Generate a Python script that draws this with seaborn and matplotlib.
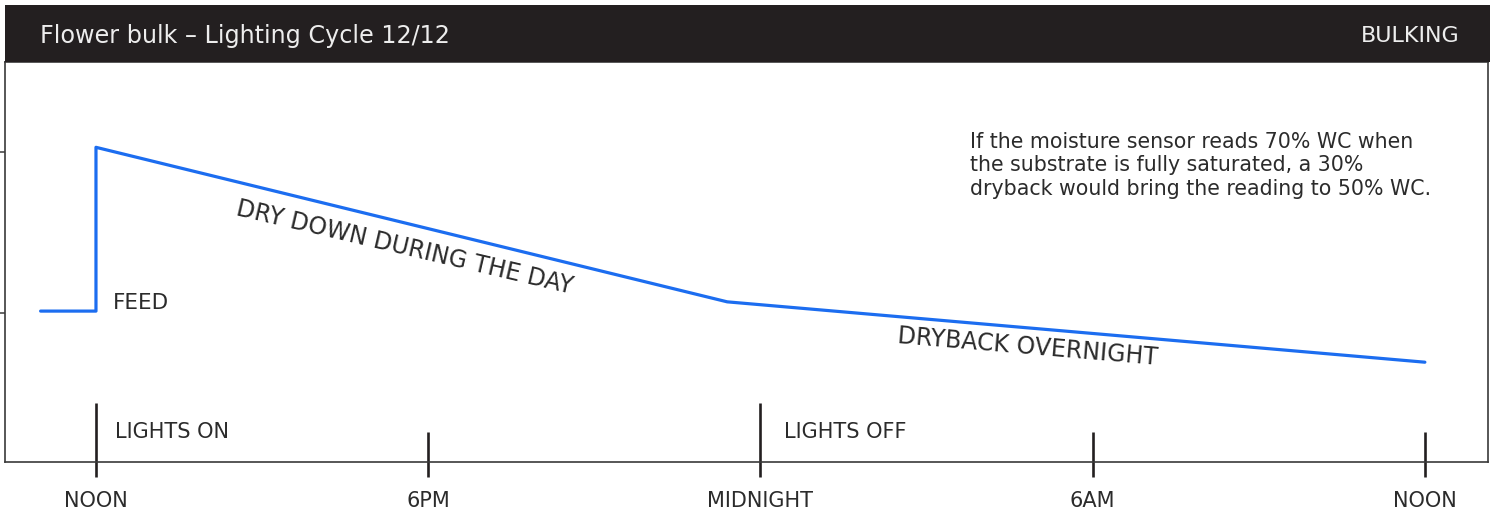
import pandas as pd
import seaborn as sns
import matplotlib.pyplot as plt
from matplotlib.patches import Rectangle

# colours
dark = '#231F20'
blue = '#1C6DF0'
ink = '#2B2B2B'

# hours after noon, water content (%)
hours = [-1, 0, 0, 11.4, 24]
wc = [50.25, 50.25, 70.6, 51.4, 43.9]

tick_hours = [0, 6, 12, 18, 24]
tick_labels = ['NOON', '6PM', 'MIDNIGHT', '6AM', 'NOON']
lights_hours = [0, 12]
y_ticks = [50, 70]

title = 'Flower bulk – Lighting Cycle 12/12'
badge = 'BULKING'
note = ('If the moisture sensor reads 70% WC when\n'
        'the substrate is fully saturated, a 30%\n'
        'dryback would bring the reading to 50% WC.')

sns.set_theme(style='white', rc={
    'axes.edgecolor': '#3A3A3A', 'axes.linewidth': 1.2,
    'text.color': ink, 'xtick.color': ink, 'ytick.color': '#3A3A3A',
})
plt.rcParams['font.family'] = ['DejaVu Sans']

df = pd.DataFrame({'hour': hours, 'wc': wc})

fig = plt.figure(figsize=(14.97, 5.12), dpi=100)
ax = fig.add_axes([5 / 1497, 50 / 512, 1483 / 1497, 400 / 512])

sns.lineplot(data=df, x='hour', y='wc', sort=False, estimator=None,
             color=blue, linewidth=2.3, ax=ax)

ax.set_xlim(-1.643, 25.14)
ax.set_ylim(31.5, 81.2)
ax.set_xlabel('')
ax.set_ylabel('')

ax.set_yticks(y_ticks)
ax.set_yticklabels([])
ax.tick_params(axis='y', which='major', left=True, direction='out',
               length=3.8, width=1.1)

ax.set_xticks(tick_hours)
ax.set_xticklabels(tick_labels, fontsize=15)
ax.tick_params(axis='x', which='major', length=0, pad=21)

# tick marks crossing the axis, taller at lights on / off
tr = ax.get_xaxis_transform()
for h in tick_hours:
    top = 0.148 if h in lights_hours else 0.075
    ax.plot([h, h], [-0.037, top], transform=tr, color=dark,
            linewidth=1.9, clip_on=False, solid_capstyle='butt')

ax.text(0.31, 51.25, 'FEED', fontsize=15.5, va='center', ha='left')
ax.text(0.34, 35.2, 'LIGHTS ON', fontsize=15, va='center', ha='left')
ax.text(12.42, 35.2, 'LIGHTS OFF', fontsize=15, va='center', ha='left')

ax.text(5.58, 58.2, 'DRY DOWN DURING THE DAY', fontsize=17, rotation=-13.2,
        rotation_mode='anchor', ha='center', va='center')
ax.text(16.83, 45.8, 'DRYBACK OVERNIGHT', fontsize=17, rotation=-4.8,
        rotation_mode='anchor', ha='center', va='center')

ax.text(15.78, 72.55, note, fontsize=14.8, va='top', ha='left',
        linespacing=1.22)

# header bar
fig.patches.append(Rectangle((5 / 1497, 450 / 512), 1485 / 1497, 57 / 512,
                             transform=fig.transFigure, facecolor=dark,
                             edgecolor='none', zorder=5))
fig.text(40 / 1497, 476 / 512, title, color='#EDEDED', fontsize=17.2,
         va='center', ha='left', zorder=6)
fig.text(1460 / 1497, 476 / 512, badge, color='#EDEDED', fontsize=16,
         va='center', ha='right', zorder=6)

fig.savefig('out.png', dpi=100)
